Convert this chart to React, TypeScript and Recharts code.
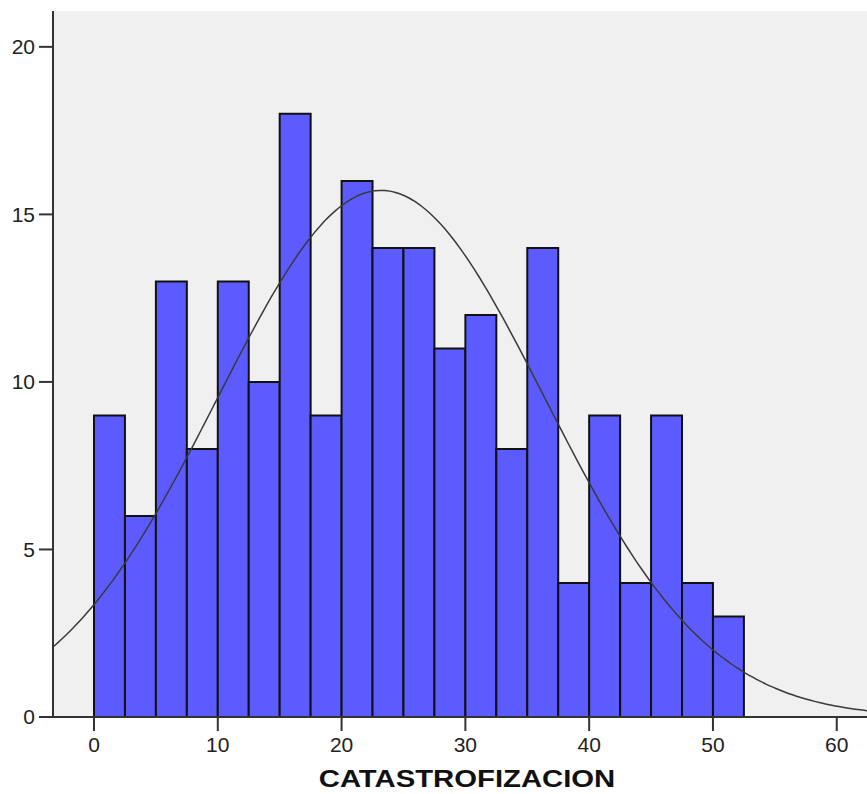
import {
  ComposedChart,
  XAxis,
  YAxis,
  CartesianGrid,
  Line,
  ReferenceArea,
} from "recharts";

// histogram bins (width 2.5) and their frequencies
const binStarts = [
  0, 2.5, 5, 7.5, 10, 12.5, 15, 17.5, 20, 22.5, 25, 27.5, 30, 32.5, 35, 37.5,
  40, 42.5, 45, 47.5, 50,
];
const counts = [
  9, 6, 13, 8, 13, 10, 18, 9, 16, 14, 14, 11, 12, 8, 14, 4, 9, 4, 9, 4, 3,
];
const binWidth = 2.5;

// fitted normal curve parameters
const mean = 23.2;
const stdDev = 13.2;
const total = counts.reduce((a, b) => a + b, 0);

const xTicks = [0, 10, 20, 30, 40, 50, 60];
const yTicks = [0, 5, 10, 15, 20];
const xDomain = [-3.312, 64.14];
const yDomain = [0, 21.07];

const curve: { x: number; y: number }[] = [];
for (let x = xDomain[0]; x <= xDomain[1] + 0.01; x += 0.4) {
  const z = (x - mean) / stdDev;
  curve.push({
    x,
    y: (total * binWidth * Math.exp(-0.5 * z * z)) / (stdDev * Math.sqrt(2 * Math.PI)),
  });
}

const font = "Arial, 'Liberation Sans', sans-serif";
const frame = "#333";

export default function App() {
  return (
    <div
      style={{
        position: "absolute",
        top: 8,
        left: 8,
        width: 859,
        height: 786,
        overflow: "hidden",
      }}
    >
      <ComposedChart
        width={880}
        height={786}
        data={curve}
        margin={{ top: 3, right: 0, bottom: 0, left: 0 }}
      >
        <CartesianGrid fill="#f0f0f0" horizontal={false} vertical={false} />
        <XAxis
          dataKey="x"
          type="number"
          domain={xDomain}
          ticks={xTicks}
          allowDataOverflow
          height={77}
          tickSize={14}
          tickMargin={6}
          axisLine={{ stroke: frame, strokeWidth: 2 }}
          tickLine={{ stroke: frame, strokeWidth: 2 }}
          tick={{ fill: "#222", fontSize: 21, fontFamily: font }}
        />
        <XAxis
          xAxisId="top"
          orientation="top"
          dataKey="x"
          type="number"
          domain={xDomain}
          allowDataOverflow
          height={0}
          tick={false}
          tickLine={false}
          axisLine={{ stroke: frame, strokeWidth: 2 }}
        />
        <YAxis
          type="number"
          domain={yDomain}
          ticks={yTicks}
          allowDataOverflow
          width={45}
          tickSize={14}
          tickMargin={4}
          axisLine={{ stroke: frame, strokeWidth: 2 }}
          tickLine={{ stroke: frame, strokeWidth: 2 }}
          tick={{ fill: "#222", fontSize: 21, fontFamily: font }}
        />
        {binStarts.map((start, i) => (
          <ReferenceArea
            key={start}
            x1={start}
            x2={start + binWidth}
            y1={0}
            y2={counts[i]}
            fill="#5b5bff"
            fillOpacity={1}
            stroke="#111"
            strokeWidth={2}
          />
        ))}
        <Line
          dataKey="y"
          type="monotone"
          dot={false}
          stroke="#3a3a3a"
          strokeWidth={1.5}
          isAnimationActive={false}
        />
        {/* axis title, stretched horizontally */}
        <text
          transform="translate(459 779) scale(1.22 1)"
          x={0}
          y={0}
          textAnchor="middle"
          fontFamily={font}
          fontWeight="bold"
          fontSize={24}
          fill="#111"
        >
          CATASTROFIZACION
        </text>
      </ComposedChart>
    </div>
  );
}
